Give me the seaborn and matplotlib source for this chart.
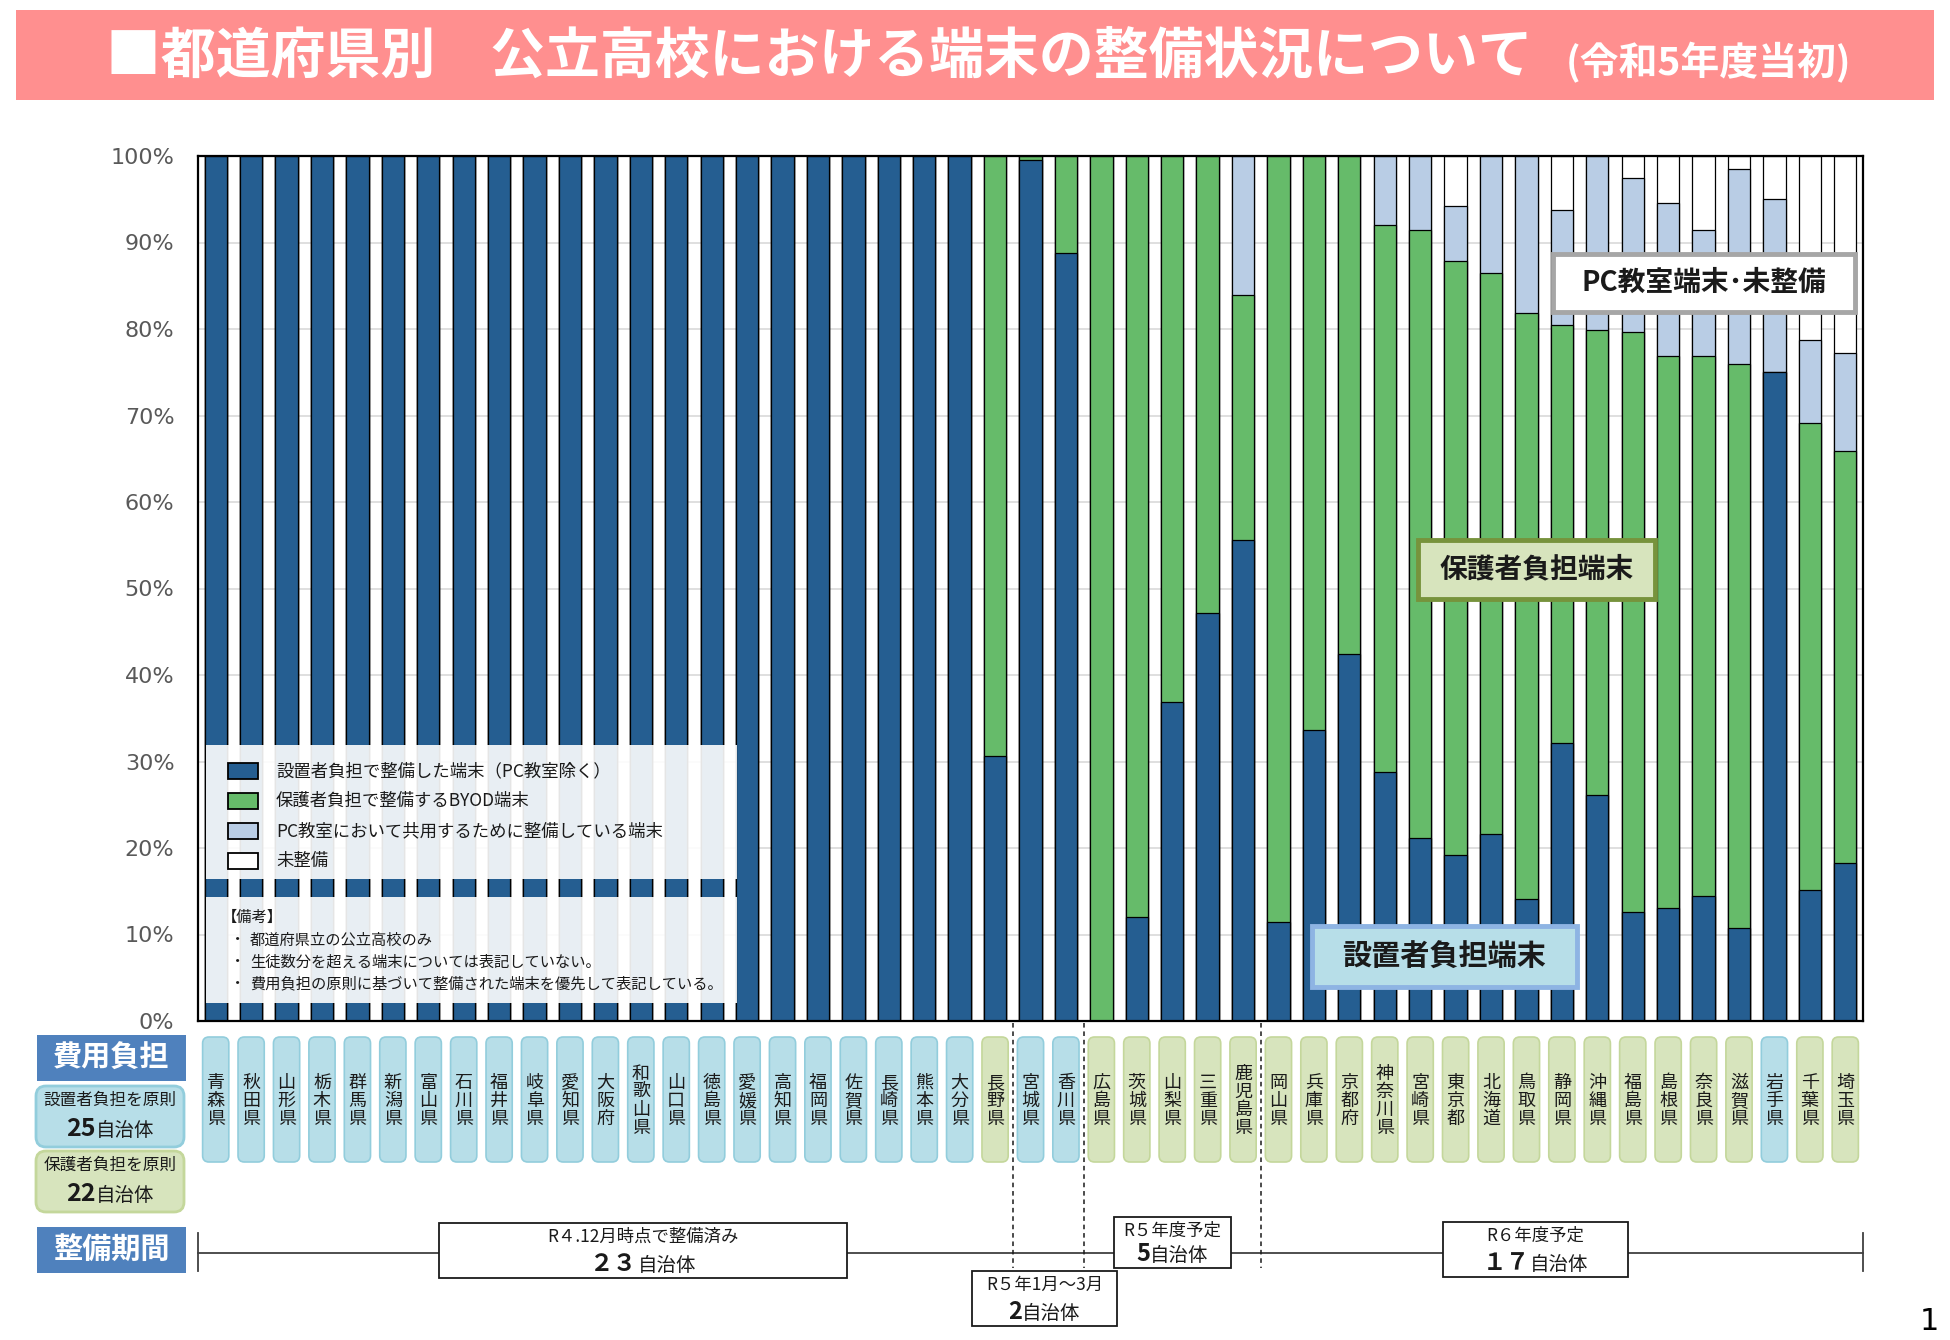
import matplotlib
matplotlib.use("Agg")
import matplotlib.pyplot as plt
import matplotlib.transforms as mtransforms
from matplotlib.patches import Rectangle, FancyBboxPatch
import numpy as np
import pandas as pd
import seaborn as sns

# --- data (percent of students per prefecture) ---
prefectures = ["青森県", "秋田県", "山形県", "栃木県", "群馬県", "新潟県", "富山県", "石川県",
               "福井県", "岐阜県", "愛知県", "大阪府", "和歌山県", "山口県", "徳島県", "愛媛県",
               "高知県", "福岡県", "佐賀県", "長崎県", "熊本県", "大分県", "長野県", "宮城県",
               "香川県", "広島県", "茨城県", "山梨県", "三重県", "鹿児島県", "岡山県", "兵庫県",
               "京都府", "神奈川県", "宮崎県", "東京都", "北海道", "鳥取県", "静岡県", "沖縄県",
               "福島県", "島根県", "奈良県", "滋賀県", "岩手県", "千葉県", "埼玉県"]
blue_share = [100, 100, 100, 100, 100, 100, 100, 100, 100, 100, 100, 100, 100, 100, 100, 100,
              100, 100, 100, 100, 100, 100, 30.6, 99.5, 88.8, 0, 12.0, 36.9, 47.2, 55.6, 11.5, 33.6,
              42.4, 28.8, 21.1, 19.2, 21.6, 14.1, 32.1, 26.1, 12.6, 13.1, 14.4, 10.8, 75.0, 15.1, 18.3]
green_share = [0, 0, 0, 0, 0, 0, 0, 0, 0, 0, 0, 0, 0, 0, 0, 0,
               0, 0, 0, 0, 0, 0, 69.4, 0.5, 11.2, 100, 88.0, 63.1, 52.8, 28.3, 88.5, 66.4,
               57.6, 63.2, 70.4, 68.7, 64.9, 67.8, 48.4, 53.8, 67.1, 63.8, 62.5, 65.1, 0, 54.0, 47.6]
pc_share = [0, 0, 0, 0, 0, 0, 0, 0, 0, 0, 0, 0, 0, 0, 0, 0,
            0, 0, 0, 0, 0, 0, 0, 0, 0, 0, 0, 0, 0, 16.1, 0, 0,
            0, 8.0, 8.5, 6.3, 13.5, 18.1, 13.3, 20.1, 17.8, 17.7, 14.5, 22.6, 20.0, 9.6, 11.3]
cost_rule = (["設置者"] * 22 + ["保護者", "設置者", "設置者"] + ["保護者"] * 19
             + ["設置者", "保護者", "保護者"])

series_labels = ["設置者負担で整備した端末（PC教室除く）", "保護者負担で整備するBYOD端末",
                 "PC教室において共用するために整備している端末", "未整備"]
period_labels = ["R４.12月時点で整備済み", "R５年1月～3月", "R５年度予定", "R６年度予定"]
period_counts = [23, 2, 5, 17]
period_count_text = ["２３", "2", "5", "１７"]
rule_counts = [25, 22]

BLUE, GREEN, PC, NONE = "#255E91", "#66BB6A", "#B9CDE5", "#FFFFFF"
LBLUE, LBLUE_E = "#B7DEE8", "#92CDDC"
LGREEN, LGREEN_E = "#D7E4BD", "#C4D79B"
HEAD = "#4F81BD"

plt.rcParams["font.family"] = ["Noto Sans CJK JP", "DejaVu Sans"]

df = pd.DataFrame({"pref": prefectures, "blue": blue_share, "green": green_share, "pc": pc_share})
df["top_green"] = df["blue"] + df["green"]
df["top_pc"] = df["top_green"] + df["pc"]
df["total"] = 100.0
n = len(df)

W, H = 1950, 1340
fig = plt.figure(figsize=(W / 100, H / 100), dpi=100)
ax = fig.add_axes([198 / W, 1 - 1021 / H, (1863 - 198) / W, (1021 - 156) / H])

for col, c in [("total", NONE), ("top_pc", PC), ("top_green", GREEN), ("blue", BLUE)]:
    sns.barplot(df, x="pref", y=col, order=prefectures, color=c, width=0.63, saturation=1,
                edgecolor="black", linewidth=0.9, errorbar=None, ax=ax)

ax.set_xlim(-0.5, n - 0.5)
ax.set_ylim(0, 100)
ax.set_yticks(range(0, 101, 10))
ax.set_yticklabels([f"{v}%" for v in range(0, 101, 10)], fontfamily="DejaVu Sans",
                   fontsize=16, color="#595959")
ax.tick_params(axis="y", length=0, pad=17)
ax.tick_params(axis="x", length=0, labelbottom=False)
ax.set_xlabel("")
ax.set_ylabel("")
ax.yaxis.grid(True, color="#D9D9D9", lw=1.2)
ax.set_axisbelow(True)
for s in ax.spines.values():
    s.set_color("black")
    s.set_linewidth(1.6)

# overlay in pixel units for the slide decoration
ov = fig.add_axes([0, 0, 1, 1], zorder=5)
ov.set_xlim(0, W)
ov.set_ylim(H, 0)
ov.axis("off")
ov.patch.set_alpha(0)
blend = mtransforms.blended_transform_factory(ax.transData, ov.transData)
ppu = ax.get_position().width * W / n

# title banner
ov.add_patch(Rectangle((16, 10), 1918, 90, facecolor="#FF8F8F", edgecolor="none"))
ov.text(106, 57, "■都道府県別　公立高校における端末の整備状況について", color="white",
        fontsize=39.5, fontweight="bold", ha="left", va="center")
ov.text(1851, 63, "(令和5年度当初)", color="white", fontsize=28, fontweight="bold",
        ha="right", va="center")

# legend
ov.add_patch(Rectangle((206, 745), 531, 134, facecolor="white", alpha=0.9, edgecolor="none"))
for k, (lab, c) in enumerate(zip(series_labels, [BLUE, GREEN, PC, NONE])):
    yc = 771 + 30 * k
    ov.add_patch(Rectangle((228, yc - 8), 30, 16, facecolor=c, edgecolor="black", lw=1.3))
    ov.text(276, yc, lab, fontsize=12.5, va="center", ha="left", color="#1a1a1a")
ov.add_patch(Rectangle((206, 897), 531, 106, facecolor="white", alpha=0.9, edgecolor="none"))
ov.text(222, 917, "【備考】", fontsize=11, va="center", color="#1a1a1a")
notes = ["都道府県立の公立高校のみ", "生徒数分を超える端末については表記していない。",
         "費用負担の原則に基づいて整備された端末を優先して表記している。"]
for k, t in enumerate(notes):
    ov.text(230, 940 + 22 * k, "・", fontsize=11, va="center", color="#1a1a1a")
    ov.text(250, 940 + 22 * k, t, fontsize=11, va="center", color="#1a1a1a")

# callout boxes
for (x0, y0, w, h, fc, ec, txt, fs) in [
        (1553, 254, 302, 58, "white", "#A6A6A6", "PC教室端末･未整備", 20),
        (1418, 540, 237, 59, LGREEN, "#77933C", "保護者負担端末", 20),
        (1312, 926, 265, 61, LBLUE, "#8EB4E3", "設置者負担端末", 21)]:
    ov.add_patch(Rectangle((x0, y0), w, h, facecolor=fc, edgecolor=ec, lw=3.5))
    ov.text(x0 + w / 2, y0 + h / 2, txt, fontsize=fs, fontweight="bold", ha="center",
            va="center", color="#1a1a1a")

# prefecture name boxes under the bars
for i, (name, rule) in enumerate(zip(prefectures, cost_rule)):
    fc, ec = (LBLUE, LBLUE_E) if rule == "設置者" else (LGREEN, LGREEN_E)
    ov.add_patch(FancyBboxPatch((i - 0.37, 1037), 0.74, 125, transform=blend,
                                boxstyle="round,pad=0,rounding_size=0.18", mutation_aspect=ppu,
                                facecolor=fc, edgecolor=ec, lw=1.2))
    ov.text(i, 1101, "\n".join(name), transform=blend, ha="center", va="center",
            fontsize=13, linespacing=1.02, color="#1a1a1a")

renderer = fig.canvas.get_renderer()


def count_label(cx, base, num, num_size, unit_size):
    t1 = ov.text(cx, base, num, ha="right", va="baseline", fontsize=num_size,
                 fontweight="bold", color="#1a1a1a", zorder=4)
    t2 = ov.text(cx, base, "自治体", ha="left", va="baseline", fontsize=unit_size,
                 color="#1a1a1a", zorder=4)
    shift = (t1.get_window_extent(renderer).width - t2.get_window_extent(renderer).width) / 2
    t1.set_x(cx + shift)
    t2.set_x(cx + shift)


# left header boxes
for (y0, h, txt) in [(1035, 46, "費用負担"), (1227, 46, "整備期間")]:
    ov.add_patch(Rectangle((37, y0), 149, h, facecolor=HEAD, edgecolor="none"))
    ov.text(111, y0 + h / 2, txt, color="white", fontsize=21, fontweight="bold",
            ha="center", va="center")
for (y0, fc, ec, rule, cnt) in [(1086, LBLUE, LBLUE_E, "設置者負担を原則", rule_counts[0]),
                                (1151, LGREEN, LGREEN_E, "保護者負担を原則", rule_counts[1])]:
    ov.add_patch(FancyBboxPatch((36, y0), 148, 61, boxstyle="round,pad=0,rounding_size=10",
                                facecolor=fc, edgecolor=ec, lw=2))
    ov.text(110, y0 + 14, rule, fontsize=12, ha="center", va="center", color="#1a1a1a")
    count_label(110, y0 + 50, str(cnt), 18, 14)

# period timeline
bounds = np.cumsum(period_counts)[:-1] - 0.5
ov.plot([-0.5, n - 0.5], [1253, 1253], transform=blend, color="#404040", lw=1.3)
for xe in [-0.5, n - 0.5]:
    ov.plot([xe, xe], [1233, 1271], transform=blend, color="#404040", lw=1.3)
for xb in bounds:
    ov.plot([xb, xb], [1023, 1268], transform=blend, color="#1a1a1a", lw=1.1, ls=(0, (3, 2.5)))

period_boxes = [(439, 1223, 408, 55), (972, 1271, 145, 55), (1114, 1217, 117, 51),
                (1443, 1222, 185, 55)]
for (x0, y0, w, h), lab, cnt in zip(period_boxes, period_labels, period_count_text):
    ov.add_patch(Rectangle((x0, y0), w, h, facecolor="white", edgecolor="#1a1a1a", lw=1.3,
                           zorder=3))
    cx = x0 + w / 2
    ov.text(cx, y0 + 14, lab, fontsize=12.5, ha="center", va="center", color="#1a1a1a", zorder=4)
    count_label(cx, y0 + h - 7, cnt, 17, 14)

ov.text(1929, 1322, "1", fontsize=22, ha="center", va="center", color="black",
        fontfamily="DejaVu Sans")

fig.savefig("out.png", dpi=100, facecolor="white")
